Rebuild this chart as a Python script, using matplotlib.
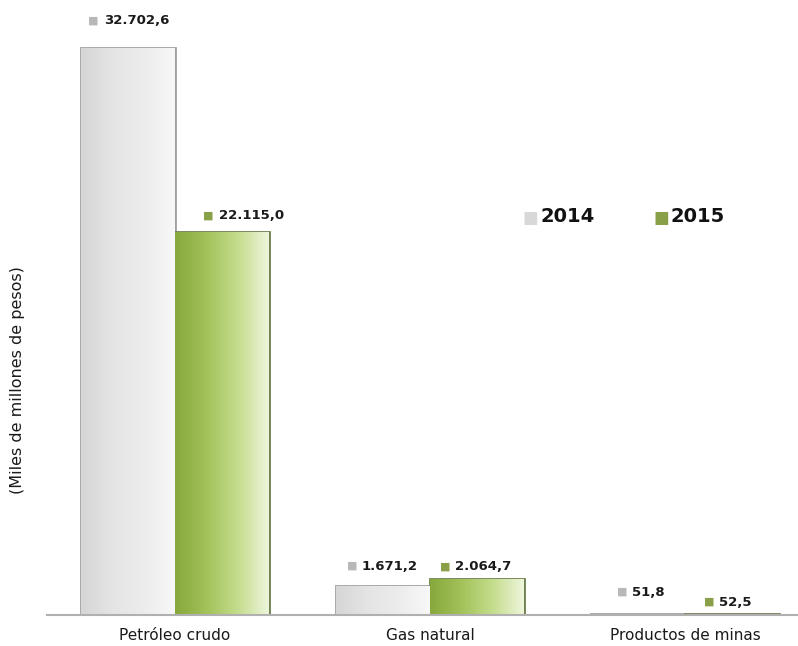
import matplotlib.pyplot as plt
import matplotlib.colors as mcolors
import numpy as np

categorias = ["Petróleo crudo", "Gas natural", "Productos de minas"]
valores_2014 = [32702.6, 1671.2, 51.8]
valores_2015 = [22115.0, 2064.7, 52.5]
etiquetas_2014 = ["32.702,6", "1.671,2", "51,8"]
etiquetas_2015 = ["22.115,0", "2.064,7", "52,5"]
series = ["2014", "2015"]

plt.rcParams['font.family'] = ['DejaVu Sans']

fig = plt.figure(figsize=(7.98, 6.46), dpi=100)
ax = fig.add_axes([47 / 798, 1 - 615 / 646, 766 / 798, 615 / 646])

x = np.arange(len(categorias))
w = 0.368

gris = mcolors.LinearSegmentedColormap.from_list("gris", ["#d6d6d6", "#e4e4e4", "#ececec", "#f8f8f8"])
verde = mcolors.LinearSegmentedColormap.from_list("verde", ["#86a83c", "#a3c25a", "#c4dc8c", "#eef6dc"])

b14 = ax.bar(x - w / 2, valores_2014, w, color="#e8e8e8", edgecolor="#a0a0a0", linewidth=2, zorder=2)
b15 = ax.bar(x + w / 2, valores_2015, w, color="#a3c25a", edgecolor="#6f7f50", linewidth=2, zorder=2)

grad = np.linspace(0, 1, 256).reshape(1, -1)
for bars, cmap in [(b14, gris), (b15, verde)]:
    for r in bars:
        x0, y0 = r.get_x(), r.get_y()
        im = ax.imshow(grad, cmap=cmap, aspect="auto", zorder=2.5,
                       extent=[x0, x0 + r.get_width(), y0, y0 + r.get_height()])
        im.set_clip_path(r)

ax.set_xlim(-0.5, 2.5)
ax.set_ylim(0, 35500)

# posiciones de las etiquetas (pixeles relativos al centro superior de la barra)
off_2014 = [(-34, 28), (-31, 20), (-16, 22)]
off_2015 = [(-13, 16), (-32, 13), (-23, 12)]

for bars, etiquetas, offs, col in [(b14, etiquetas_2014, off_2014, "#b8b8b8"),
                                   (b15, etiquetas_2015, off_2015, "#8aa048")]:
    for r, txt, (dx, dy) in zip(bars, etiquetas, offs):
        xy = (r.get_x() + r.get_width() / 2, r.get_height())
        ax.annotate("■", xy, xytext=(dx, dy), textcoords="offset pixels",
                    ha="center", va="center", fontsize=8, color=col,
                    annotation_clip=False)
        ax.annotate(txt, xy, xytext=(dx + 10, dy), textcoords="offset pixels",
                    ha="left", va="center", fontsize=9.5, fontweight="bold",
                    color="#1a1a1a", annotation_clip=False)

# leyenda
for xl, lab, col in [(530, series[0], "#d8d8d8"), (661, series[1], "#8aa048")]:
    fig.text(xl / 798, 1 - 218 / 646, "■", fontsize=12, color=col, ha="center", va="center")
    fig.text((xl + 10) / 798, 1 - 217 / 646, lab, fontsize=14, fontweight="bold",
             color="#111111", ha="left", va="center")

ax.set_xticks(x)
ax.set_xticklabels(categorias, fontsize=11, color="#1a1a1a")
ax.tick_params(axis="x", length=0, pad=9)
ax.set_yticks([])
for s in ["top", "right", "left"]:
    ax.spines[s].set_visible(False)
ax.spines["bottom"].set_color("#b0b0b0")
ax.spines["bottom"].set_linewidth(1.5)

fig.text(18 / 798, 1 - 380 / 646, "(Miles de millones de pesos)", rotation=90,
         fontsize=11.5, color="#1a1a1a", ha="center", va="center")

fig.savefig("out.png", dpi=100)
